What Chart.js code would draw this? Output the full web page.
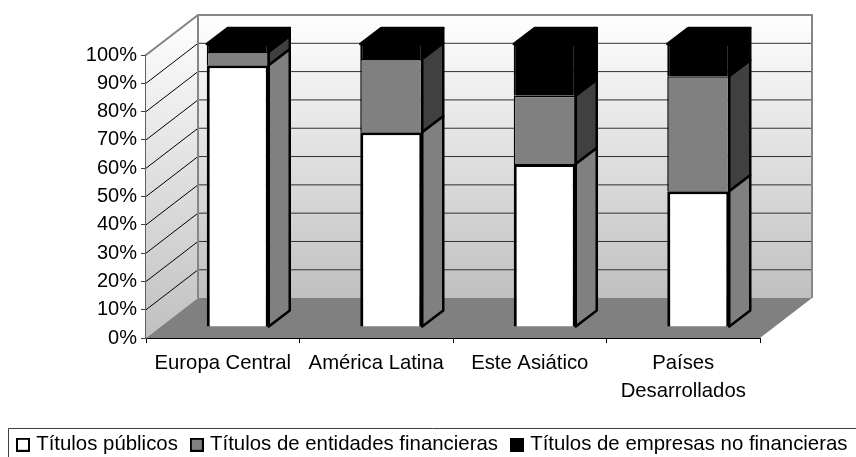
<!DOCTYPE html>
<html><head><meta charset="utf-8">
<style>html,body{margin:0;padding:0;background:#fff}canvas{display:block}</style>
<script src="https://cdn.jsdelivr.net/npm/chart.js@4"></script>
</head><body><canvas id="c" width="856" height="457"></canvas>
<script>
const categories = ["Europa Central", "América Latina", "Este Asiático", ["Países", "Desarrollados"]];
const seriesNames = ["Títulos públicos", "Títulos de entidades financieras", "Títulos de empresas no financieras"];
const publicos = [92.5, 68.8, 57.6, 48];
const entidades = [4.7, 25.9, 24.1, 40.6];
const empresas = [2.8, 5.3, 18.3, 11.4];
const FONT = "'Liberation Sans', Arial, sans-serif";
const ROOM = {dx: 52, dy: -40};
const PLANE = {dx: 15, dy: -11};
const DEPTH = {dx: 21, dy: -16};
const FRONT = ["#ffffff", "#808080", "#000000"];
const SIDE = ["#808080", "#404040", "#000000"];

function poly(ctx, pts){ctx.beginPath();pts.forEach((p,i)=>i?ctx.lineTo(p[0],p[1]):ctx.moveTo(p[0],p[1]));ctx.closePath();}

function swatch(color){
  const s = document.createElement("canvas");
  s.width = 14; s.height = 14;
  const c = s.getContext("2d");
  c.fillStyle = "#000"; c.fillRect(0,0,14,14);
  c.fillStyle = color; c.fillRect(2,2,10,10);
  return s;
}
const swatches = FRONT.map(swatch);

const room = {
  id: "room",
  afterLayout(chart){ chart.legend.left = 4; },
  beforeDatasetsDraw(chart){
    const {ctx, scales:{x, y}} = chart;
    const l = x.left, r = x.right, t = y.getPixelForValue(100), b = y.getPixelForValue(0);
    const {dx, dy} = ROOM;
    ctx.save();
    const g = ctx.createLinearGradient(0, t+dy, 0, b+dy);
    g.addColorStop(0, "#ffffff"); g.addColorStop(1, "#c0c0c0");
    ctx.fillStyle = g;
    ctx.fillRect(l+dx, t+dy, r-l, b-t);
    const g2 = ctx.createLinearGradient(0, t+dy, 0, b);
    g2.addColorStop(0, "#ffffff"); g2.addColorStop(1, "#c0c0c0");
    ctx.fillStyle = g2;
    poly(ctx, [[l,t],[l+dx,t+dy],[l+dx,b+dy],[l,b]]); ctx.fill();
    ctx.fillStyle = "#808080";
    poly(ctx, [[l,b],[r,b],[r+dx,b+dy],[l+dx,b+dy]]); ctx.fill();
    y.ticks.forEach(tk => {
      const p = y.getPixelForValue(tk.value);
      if (tk.value > 0) {
        ctx.strokeStyle = "#000"; ctx.lineWidth = 1;
        ctx.beginPath(); ctx.moveTo(l, p); ctx.lineTo(l+dx, p+dy); ctx.stroke();
      }
      if (tk.value > 0 && tk.value < 100) {
        ctx.strokeStyle = "#303030"; ctx.lineWidth = 1;
        ctx.beginPath(); ctx.moveTo(l+dx, p+dy); ctx.lineTo(r+dx, p+dy); ctx.stroke();
      }
    });
    ctx.strokeStyle = "#868686"; ctx.lineWidth = 2;
    ctx.beginPath();
    ctx.moveTo(l, t); ctx.lineTo(l+dx, t+dy); ctx.lineTo(r+dx, t+dy); ctx.lineTo(r+dx, b+dy);
    ctx.moveTo(l+dx, t+dy); ctx.lineTo(l+dx, b+dy);
    ctx.stroke();
    ctx.restore();
  },
  beforeDatasetDraw(chart){
    chart.ctx.save();
    chart.ctx.translate(PLANE.dx, PLANE.dy);
  },
  afterDatasetDraw(chart, args){
    const {ctx} = chart;
    const last = args.index === chart.data.datasets.length-1;
    ctx.lineWidth = 2.5; ctx.lineJoin = "round"; ctx.strokeStyle = "#000";
    args.meta.data.forEach(el => {
      const R = el.x+el.width/2, L = el.x-el.width/2;
      ctx.fillStyle = SIDE[args.index];
      poly(ctx, [[R,el.y],[R+DEPTH.dx,el.y+DEPTH.dy],[R+DEPTH.dx,el.base+DEPTH.dy],[R,el.base]]);
      ctx.fill(); ctx.stroke();
      if (last) {
        ctx.fillStyle = "#000";
        poly(ctx, [[L,el.y],[L+DEPTH.dx,el.y+DEPTH.dy],[R+DEPTH.dx,el.y+DEPTH.dy],[R,el.y]]);
        ctx.fill(); ctx.stroke();
      }
    });
    ctx.restore();
  },
  afterDraw(chart){
    const {ctx} = chart;
    ctx.save();
    ctx.strokeStyle = "#404040"; ctx.lineWidth = 1;
    ctx.beginPath();
    ctx.moveTo(8.5, 458); ctx.lineTo(8.5, 428.5); ctx.lineTo(857, 428.5);
    ctx.stroke();
    ctx.restore();
  }
};

const mk = (label, data, color, bw) => ({label, data, backgroundColor: color, borderColor: "#000", borderWidth: bw,
  barPercentage: 0.404, categoryPercentage: 1, clip: false, xAxisID: "x", yAxisID: "y"});

new Chart(document.getElementById("c"), {
  type: "bar",
  data: {labels: categories, datasets: [
    mk(seriesNames[0], publicos, FRONT[0], 3),
    mk(seriesNames[1], entidades, FRONT[1], 1.5),
    mk(seriesNames[2], empresas, FRONT[2], 2)
  ]},
  plugins: [room],
  options: {
    responsive: false, animation: false, devicePixelRatio: 1,
    layout: {padding: {left: 0, right: -40, top: 55, bottom: -8}},
    plugins: {
      tooltip: {enabled: false},
      title: {display: false},
      legend: {position: "bottom", align: "start",
        labels: {font: {family: FONT, size: 20.4}, color: "#000", usePointStyle: true, pointStyleWidth: 6, boxHeight: 12, padding: 16,
          generateLabels(chart){
            return seriesNames.map((text, i) => ({text, datasetIndex: i, fontColor: "#000", pointStyle: swatches[i], lineWidth: 0}));
          }}}
    },
    scales: {
      x: {stacked: true, afterFit(s){s.height = 80.5;},
        grid: {drawOnChartArea: false, color: "#000", tickLength: 5, offset: true},
        border: {color: "#000"},
        ticks: {font: {family: FONT, size: 20.3, lineHeight: 1.38}, color: "#000", maxRotation: 0, autoSkip: false, padding: 6}},
      y: {stacked: true, min: 0, max: 100, afterFit(s){s.width = 146;},
        grid: {drawOnChartArea: false, color: "#404040", tickLength: 5, lineWidth: 1},
        border: {color: "#606060", width: 2},
        ticks: {stepSize: 10, font: {family: FONT, size: 20}, color: "#000", padding: 4, autoSkip: false, callback: v => v + "%"}},
      r: {position: "right", min: 0, max: 100, afterFit(s){s.width = 136;},
        grid: {display: false}, border: {display: false}, ticks: {display: false}}
    }
  }
});
</script></body></html>
